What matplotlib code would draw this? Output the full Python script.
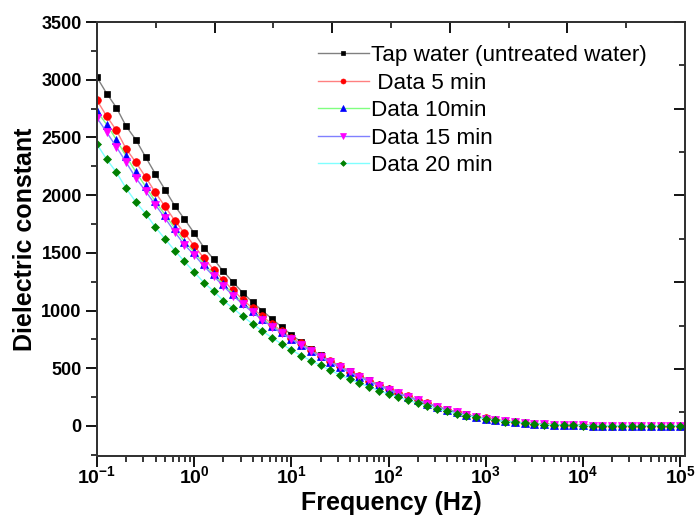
import numpy as np
import matplotlib
matplotlib.use("Agg")
import matplotlib.pyplot as plt
from matplotlib.ticker import FixedLocator, FixedFormatter, MultipleLocator, LogLocator, NullFormatter

plt.rcParams['font.family'] = ['Liberation Sans', 'DejaVu Sans']
plt.rcParams['mathtext.fontset'] = 'custom'
plt.rcParams['mathtext.rm'] = 'Liberation Sans:bold'
plt.rcParams['mathtext.bf'] = 'Liberation Sans:bold'
plt.rcParams['mathtext.it'] = 'Liberation Sans:bold'

# measurement grid: 10 points per decade, 0.1 Hz .. 100 kHz
freq = np.logspace(-1, 5, 61)

tap = [3020, 2880, 2758, 2596, 2480, 2330, 2185, 2047, 1908, 1792, 1671, 1546, 1445,
       1340, 1245, 1155, 1072, 1000, 928, 858, 790, 728,
       665, 612, 565, 518, 472, 433, 395, 358, 322, 288, 257, 227, 197, 168, 143, 120, 99, 81,
       66, 53, 43, 34, 26, 20, 15, 11, 8, 6, 4, 3, 2, 2, 1, 1, 1, 1, 1, 1, 1]
d5 = [2821, 2683, 2561, 2400, 2284, 2157, 2023, 1902, 1780, 1671, 1561, 1454,
      1355, 1262, 1175, 1095, 1020, 950, 885, 822, 765, 716,
      660, 608, 561, 515, 470, 431, 393, 356, 320, 286, 255, 225, 195, 167, 142, 119, 98, 80,
      65, 52, 42, 33, 25, 19, 14, 10, 7, 5, 4, 3, 2, 2, 1, 1, 1, 1, 1, 1, 1]
d10 = [2726, 2611, 2480, 2336, 2200, 2075, 1945, 1830, 1714, 1598, 1506,
       1405, 1315, 1228, 1145, 1068, 996, 930, 868, 810, 755, 705,
       652, 602, 555, 510, 466, 427, 389, 353, 317, 284, 253, 223, 194, 166, 141, 118, 97, 79,
       64, 51, 41, 32, 25, 19, 14, 10, 7, 5, 4, 3, 2, 2, 1, 1, 1, 1, 1, 1, 1]
d15 = [2669, 2544, 2417, 2284, 2148, 2035, 1917, 1801, 1680, 1569, 1483,
       1385, 1298, 1212, 1130, 1055, 985, 920, 860, 803, 750, 700,
       648, 598, 552, 507, 463, 424, 386, 350, 315, 282, 251, 221, 192, 165, 140, 117, 96, 78,
       63, 50, 40, 32, 24, 18, 13, 10, 7, 5, 4, 3, 2, 2, 1, 1, 1, 1, 1, 1, 1]
d20 = [2440, 2310, 2197, 2058, 1940, 1840, 1723, 1620, 1520, 1425, 1333, 1242, 1168, 1086, 1020,
       950, 885, 823, 765, 710, 658, 610,
       566, 525, 482, 442, 405, 370, 338, 306, 277, 250, 223, 197, 172, 148, 126, 106, 89, 74,
       60, 48, 38, 30, 23, 17, 12, 9, 6, 4, 3, 2, 2, 1, 1, 1, 1, 1, 1, 1, 1]

labels = ['Tap water (untreated water)', ' Data 5 min', 'Data 10min', 'Data 15 min', 'Data 20 min']
series = [tap, d5, d10, d15, d20]
markers = ['s', 'o', '^', 'v', 'D']
mcolors = ['#000000', '#ff0000', '#0000ff', '#ff00ff', '#008000']
lcolors = ['#808080', '#ff8080', '#80ff80', '#8080ff', '#80ffff']
msizes = [5, 5.5, 6, 6, 4.5]

xticks = [1e-1, 1e0, 1e1, 1e2, 1e3, 1e4, 1e5]
xticklabels = [r'$\mathbf{10^{-1}}$', r'$\mathbf{10^{0}}$', r'$\mathbf{10^{1}}$', r'$\mathbf{10^{2}}$',
               r'$\mathbf{10^{3}}$', r'$\mathbf{10^{4}}$', r'$\mathbf{10^{5}}$']
yticks = [0, 500, 1000, 1500, 2000, 2500, 3000, 3500]

fig = plt.figure(figsize=(6.95, 5.18), dpi=100)
ax = fig.add_axes([97/695, 1-455.7/518, (685-97)/695, (455.7-22)/518])

for y, lab, m, mc, lc, ms in zip(series, labels, markers, mcolors, lcolors, msizes):
    ax.plot(freq, y, color=lc, lw=1.0, marker=m, markersize=ms, markerfacecolor=mc,
            markeredgecolor=mc, markeredgewidth=0.5, label=lab)

ax.set_xscale('log')
ax.set_xlim(10**-1, 10**5.05)
ax.set_ylim(-258, 3500)
ax.xaxis.set_major_locator(FixedLocator(xticks))
ax.xaxis.set_major_formatter(FixedFormatter(xticklabels))
ax.xaxis.set_minor_locator(LogLocator(base=10, subs=np.arange(2, 10), numticks=20))
ax.xaxis.set_minor_formatter(NullFormatter())
ax.set_yticks(yticks)
ax.yaxis.set_minor_locator(MultipleLocator(250))
ax.tick_params(axis='both', which='major', direction='out', length=8, width=1.3,
               labelsize=13, top=False, right=False, pad=3)
ax.tick_params(axis='both', which='minor', direction='out', length=4.5, width=1.1,
               top=False, right=False)
for t in ax.get_yticklabels():
    t.set_fontweight('bold')
ax.tick_params(axis='x', labelsize=14, pad=-1)
for s in ax.spines.values():
    s.set_linewidth(1.3)
    s.set_color('#333333')

ax.set_xlabel('Frequency (Hz)', fontsize=18, fontweight='bold', va='center')
ax.xaxis.set_label_coords(0.5, (455.7-503)/433.7)
ax.set_ylabel('Dielectric constant', fontsize=18, fontweight='bold', va='center')
ax.yaxis.set_label_coords((25-97)/588, 0.5)

# mirrored top/right axes (unlabelled, 0..1 linear as in the original)
axt = ax.twiny()
axt.set_xlim(0, 1)
axt.xaxis.set_major_locator(MultipleLocator(0.2))
axt.xaxis.set_minor_locator(MultipleLocator(0.1))
axt.tick_params(axis='x', which='major', direction='in', length=8, width=1.3, labeltop=False)
axt.tick_params(axis='x', which='minor', direction='in', length=4, width=1.1)
axr = ax.twinx()
axr.set_ylim(0, 1)
axr.yaxis.set_major_locator(MultipleLocator(0.2))
axr.yaxis.set_minor_locator(MultipleLocator(0.1))
axr.tick_params(axis='y', which='major', direction='in', length=8, width=1.3, labelright=False)
axr.tick_params(axis='y', which='minor', direction='in', length=4, width=1.1)
for a in (axt, axr):
    for s in a.spines.values():
        s.set_linewidth(1.3)
        s.set_color('#333333')

h, l = ax.get_legend_handles_labels()
leg = ax.legend(h, l, loc='upper left', bbox_to_anchor=(318/695, 1-45/518),
                bbox_transform=fig.transFigure, frameon=False, fontsize=16.2,
                handlelength=2.25, handletextpad=0.1, labelspacing=0.29,
                borderpad=0, borderaxespad=0, markerscale=0.65)

fig.savefig('out.png', dpi=100)
